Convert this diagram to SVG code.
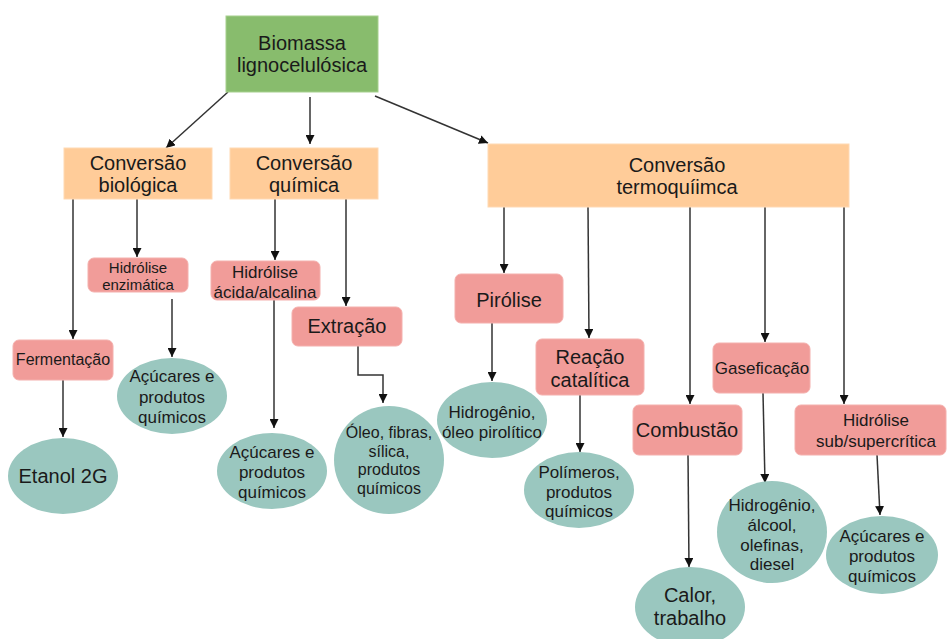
<svg xmlns="http://www.w3.org/2000/svg" width="948" height="639" viewBox="0 0 948 639">
<defs>
<marker id="ah" viewBox="0 0 10 10" refX="10" refY="5" markerWidth="9" markerHeight="9" markerUnits="userSpaceOnUse" orient="auto">
<path d="M0,0 L10,5 L0,10 z" fill="#111"/>
</marker>
<style>
text{font-family:"Liberation Sans",Arial,sans-serif;fill:#1a1a1a;text-anchor:middle}
.root{fill:#88BC6D;stroke:#a6d08e;stroke-width:1}
.conv{fill:#FFCC99;stroke:#ffd9b3;stroke-width:1}
.proc{fill:#F19C99;stroke:#f4b0ad;stroke-width:1}
.prod{fill:#9AC7BF}
.c path,.c line,.c polyline{stroke:#333;stroke-width:1.5;fill:none;marker-end:url(#ah)}
.f20{font-size:20px}.f17{font-size:17px}.f16{font-size:16px}.f15{font-size:15px}
</style>
</defs>
<rect width="948" height="639" fill="#fff"/>
<g class="c" id="connectors">
<line x1="228" y1="92" x2="166" y2="148"/>
<line x1="310" y1="97" x2="310" y2="144"/>
<line x1="375" y1="96" x2="488" y2="143"/>
<line x1="73" y1="199" x2="73" y2="339"/>
<line x1="137" y1="199" x2="137" y2="257"/>
<line x1="63" y1="380" x2="63" y2="437"/>
<line x1="172" y1="299" x2="172" y2="357"/>
<line x1="275" y1="199" x2="275" y2="260"/>
<line x1="274" y1="300" x2="274" y2="428"/>
<line x1="346" y1="199" x2="346" y2="306"/>
<polyline points="358,346 358,375 383,375 383,403"/>
<line x1="504" y1="207" x2="504" y2="273"/>
<line x1="588" y1="207" x2="589" y2="338"/>
<line x1="690" y1="207" x2="690" y2="404"/>
<line x1="765" y1="207" x2="765" y2="342"/>
<line x1="844" y1="207" x2="844" y2="404"/>
<line x1="492" y1="323" x2="492" y2="381"/>
<line x1="580" y1="395" x2="580" y2="452"/>
<line x1="688" y1="455" x2="689" y2="567"/>
<line x1="763" y1="393" x2="765" y2="483"/>
<line x1="877" y1="455" x2="880" y2="515"/>
</g>
<g id="biomassa"><rect class="root" x="226" y="16" width="152" height="76"/><text class="f20" x="302" y="50">Biomassa</text><text class="f20" x="302" y="72">lignocelulósica</text></g>
<g id="conv-bio"><rect class="conv" x="64" y="148" width="148" height="51"/><text class="f20" x="138" y="170">Conversão</text><text class="f20" x="138" y="192">biológica</text></g>
<g id="conv-quim"><rect class="conv" x="230" y="148" width="148" height="51"/><text class="f20" x="304" y="170">Conversão</text><text class="f20" x="304" y="192">química</text></g>
<g id="conv-termo"><rect class="conv" x="488" y="144" width="361" height="63"/><text class="f20" x="677" y="172">Conversão</text><text class="f20" x="677" y="194">termoquíimca</text></g>
<g id="fermentacao"><rect class="proc" x="13" y="340" width="100" height="40" rx="6"/><text class="f16" x="63" y="365">Fermentação</text></g>
<g id="hidrolise-enz"><rect class="proc" x="88" y="258" width="100" height="34" rx="6"/><text class="f15" x="138" y="273">Hidrólise</text><text class="f15" x="138" y="290">enzimática</text></g>
<g id="etanol"><ellipse class="prod" cx="63" cy="476" rx="55" ry="38"/><text class="f20" x="63" y="483">Etanol 2G</text></g>
<g id="acucares1"><ellipse class="prod" cx="172" cy="396" rx="55" ry="38"/><text class="f17" x="172" y="382">Açúcares e</text><text class="f17" x="172" y="403">produtos</text><text class="f17" x="172" y="423">químicos</text></g>
<g id="hidrolise-acida"><rect class="proc" x="211" y="261" width="109" height="39" rx="6"/><text class="f17" x="265" y="278">Hidrólise</text><text class="f17" x="265" y="298">ácida/alcalina</text></g>
<g id="extracao"><rect class="proc" x="292" y="307" width="110" height="39" rx="6"/><text class="f20" x="347" y="333">Extração</text></g>
<g id="acucares2"><ellipse class="prod" cx="272" cy="471" rx="55" ry="38"/><text class="f17" x="272" y="458">Açúcares e</text><text class="f17" x="272" y="478">produtos</text><text class="f17" x="272" y="498">químicos</text></g>
<g id="oleo"><ellipse class="prod" cx="389" cy="460" rx="55" ry="54"/><text class="f16" x="389" y="438">Óleo, fibras,</text><text class="f16" x="389" y="457">sílica,</text><text class="f16" x="389" y="475">produtos</text><text class="f16" x="389" y="494">químicos</text></g>
<g id="pirolise"><rect class="proc" x="455" y="274" width="108" height="49" rx="6"/><text class="f20" x="509" y="307">Pirólise</text></g>
<g id="hidrogenio1"><ellipse class="prod" cx="492" cy="420" rx="55" ry="38"/><text class="f17" x="492" y="418">Hidrogênio,</text><text class="f17" x="492" y="438">óleo pirolítico</text></g>
<g id="reacao"><rect class="proc" x="536" y="339" width="108" height="56" rx="6"/><text class="f20" x="590" y="364">Reação</text><text class="f20" x="590" y="387">catalítica</text></g>
<g id="polimeros"><ellipse class="prod" cx="579" cy="490" rx="55" ry="38"/><text class="f17" x="579" y="478">Polímeros,</text><text class="f17" x="579" y="498">produtos</text><text class="f17" x="579" y="517">químicos</text></g>
<g id="combustao"><rect class="proc" x="633" y="405" width="109" height="50" rx="6"/><text class="f20" x="687" y="437">Combustão</text></g>
<g id="calor"><ellipse class="prod" cx="690" cy="607" rx="55" ry="40"/><text class="f20" x="690" y="602">Calor,</text><text class="f20" x="690" y="625">trabalho</text></g>
<g id="gaseificacao"><rect class="proc" x="713" y="343" width="97" height="50" rx="6"/><text class="f17" x="762" y="374">Gaseficação</text></g>
<g id="hidrogenio2"><ellipse class="prod" cx="772" cy="532" rx="55" ry="51"/><text class="f17" x="772" y="511">Hidrogênio,</text><text class="f17" x="772" y="531">álcool,</text><text class="f17" x="772" y="551">olefinas,</text><text class="f17" x="772" y="570">diesel</text></g>
<g id="hidrolise-sub"><rect class="proc" x="795" y="405" width="151" height="50" rx="6"/><text class="f17" x="876" y="426">Hidrólise</text><text class="f17" x="876" y="447">sub/supercrítica</text></g>
<g id="acucares3"><ellipse class="prod" cx="882" cy="555" rx="56" ry="39"/><text class="f17" x="882" y="542">Açúcares e</text><text class="f17" x="882" y="562">produtos</text><text class="f17" x="882" y="582">químicos</text></g>
</svg>
